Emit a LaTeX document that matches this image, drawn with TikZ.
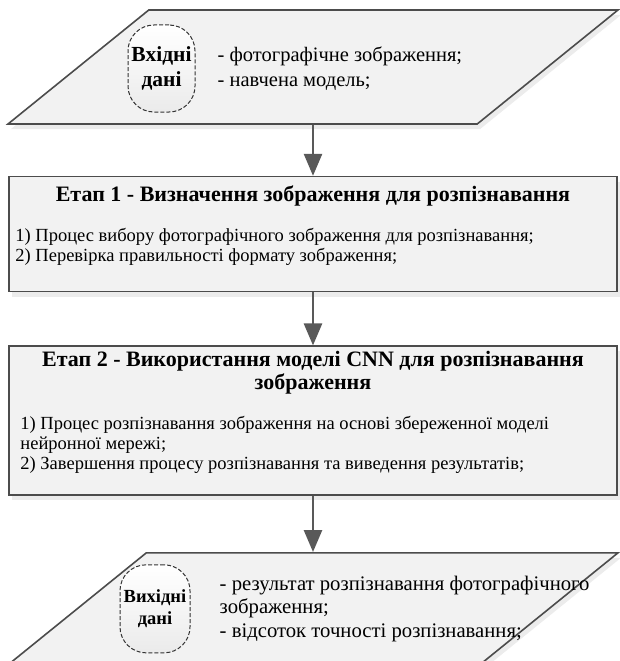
\documentclass[tikz,border=0pt]{standalone}
\usepackage{fontspec}
\setmainfont{Liberation Serif}
\usetikzlibrary{arrows.meta,positioning,shapes.geometric,shadows}

\begin{document}
\begin{tikzpicture}
        [
            > = {Triangle[width=18pt,length=22pt]},
            x = 1pt, y = 1pt,
            io/.style = {
                draw=black!70, line width=1.6pt, fill=black!5,
                trapezium, trapezium left angle=39, trapezium right angle=141,
                trapezium stretches body=true, minimum width=610pt, inner xsep=2pt,
                drop shadow={opacity=.15, shadow xshift=3pt, shadow yshift=-5pt}},
            stage/.style = {
                draw=black!70, line width=1.6pt, fill=black!5,
                rectangle, minimum width=608pt, inner sep=0pt,
                drop shadow={opacity=.15, shadow xshift=3pt, shadow yshift=-5pt}},
            tag/.style = {
                draw=black!80, line width=1pt, dash pattern=on 4pt off 2pt,
                rounded corners=26pt, top color=white, bottom color=black!8,
                inner sep=0pt, align=center},
            head/.style = {inner sep=0pt, align=center, font=\bfseries\fontsize{22}{23}\selectfont},
            item/.style = {inner sep=0pt, align=left, font=\fontsize{18.5}{20}\selectfont},
            flow/.style = {->, draw=black!65, line width=2.6pt}
        ]
        \useasboundingbox (0,0) rectangle (619,-661);
        % input / output
        \node [io, inner ysep=57pt] (InData) at (313,-67) {};
        \node [stage, minimum height=115pt] (Stage1) [below=51pt of InData] {};
        \node [stage, minimum height=149pt] (Stage2) [below=53pt of Stage1] {};
        \node [io, inner ysep=56pt] (OutData) [below=56pt of Stage2] {};
        % labels
        \node [tag, minimum width=67pt, minimum height=87pt, font=\bfseries\fontsize{21.5}{25}\selectfont]
            (InTag) at ([xshift=-151.5pt,yshift=-1.5pt]InData.center) {Вхідні\\дані};
        \node [item, anchor=west, font=\fontsize{20.5}{25}\selectfont] (InText) [right=22pt of InTag]
            {- фотографічне зображення;\\- навчена модель;};
        \node [tag, minimum width=70pt, minimum height=88pt, font=\bfseries\fontsize{18.5}{22}\selectfont]
            (OutTag) at ([xshift=-158pt]OutData.center) {Вихідні\\дані};
        \node [item, anchor=west, font=\fontsize{20.7}{23.5}\selectfont] (OutText) [right=29pt of OutTag]
            {- результат розпізнавання фотографічного\\зображення;\\- відсоток точності розпізнавання;};
        % stages
        \node [head] (Title1) at ([yshift=-20pt]Stage1.north) {Етап 1 - Визначення зображення для розпізнавання};
        \node [item, anchor=west] (Steps1) at ([xshift=7pt,yshift=-12.5pt]Stage1.west)
            {1) Процес вибору фотографічного зображення для розпізнавання;\\2) Перевірка правильності формату зображення;};
        \node [head] (Title2) at ([yshift=-27.5pt]Stage2.north) {Етап 2 - Використання моделі CNN для розпізнавання\\зображення};
        \node [item, anchor=west] (Steps2) at ([xshift=12pt,yshift=-24.5pt]Stage2.west)
            {1) Процес розпізнавання зображення на основі збереженної моделі\\нейронної мережі;\\2) Завершення процесу розпізнавання та виведення результатів;};
        % flow
        \draw [flow] (InData) -- (Stage1);
        \draw [flow] (Stage1) -- (Stage2);
        \draw [flow] (Stage2) -- (OutData);
    \end{tikzpicture}
\end{document}
